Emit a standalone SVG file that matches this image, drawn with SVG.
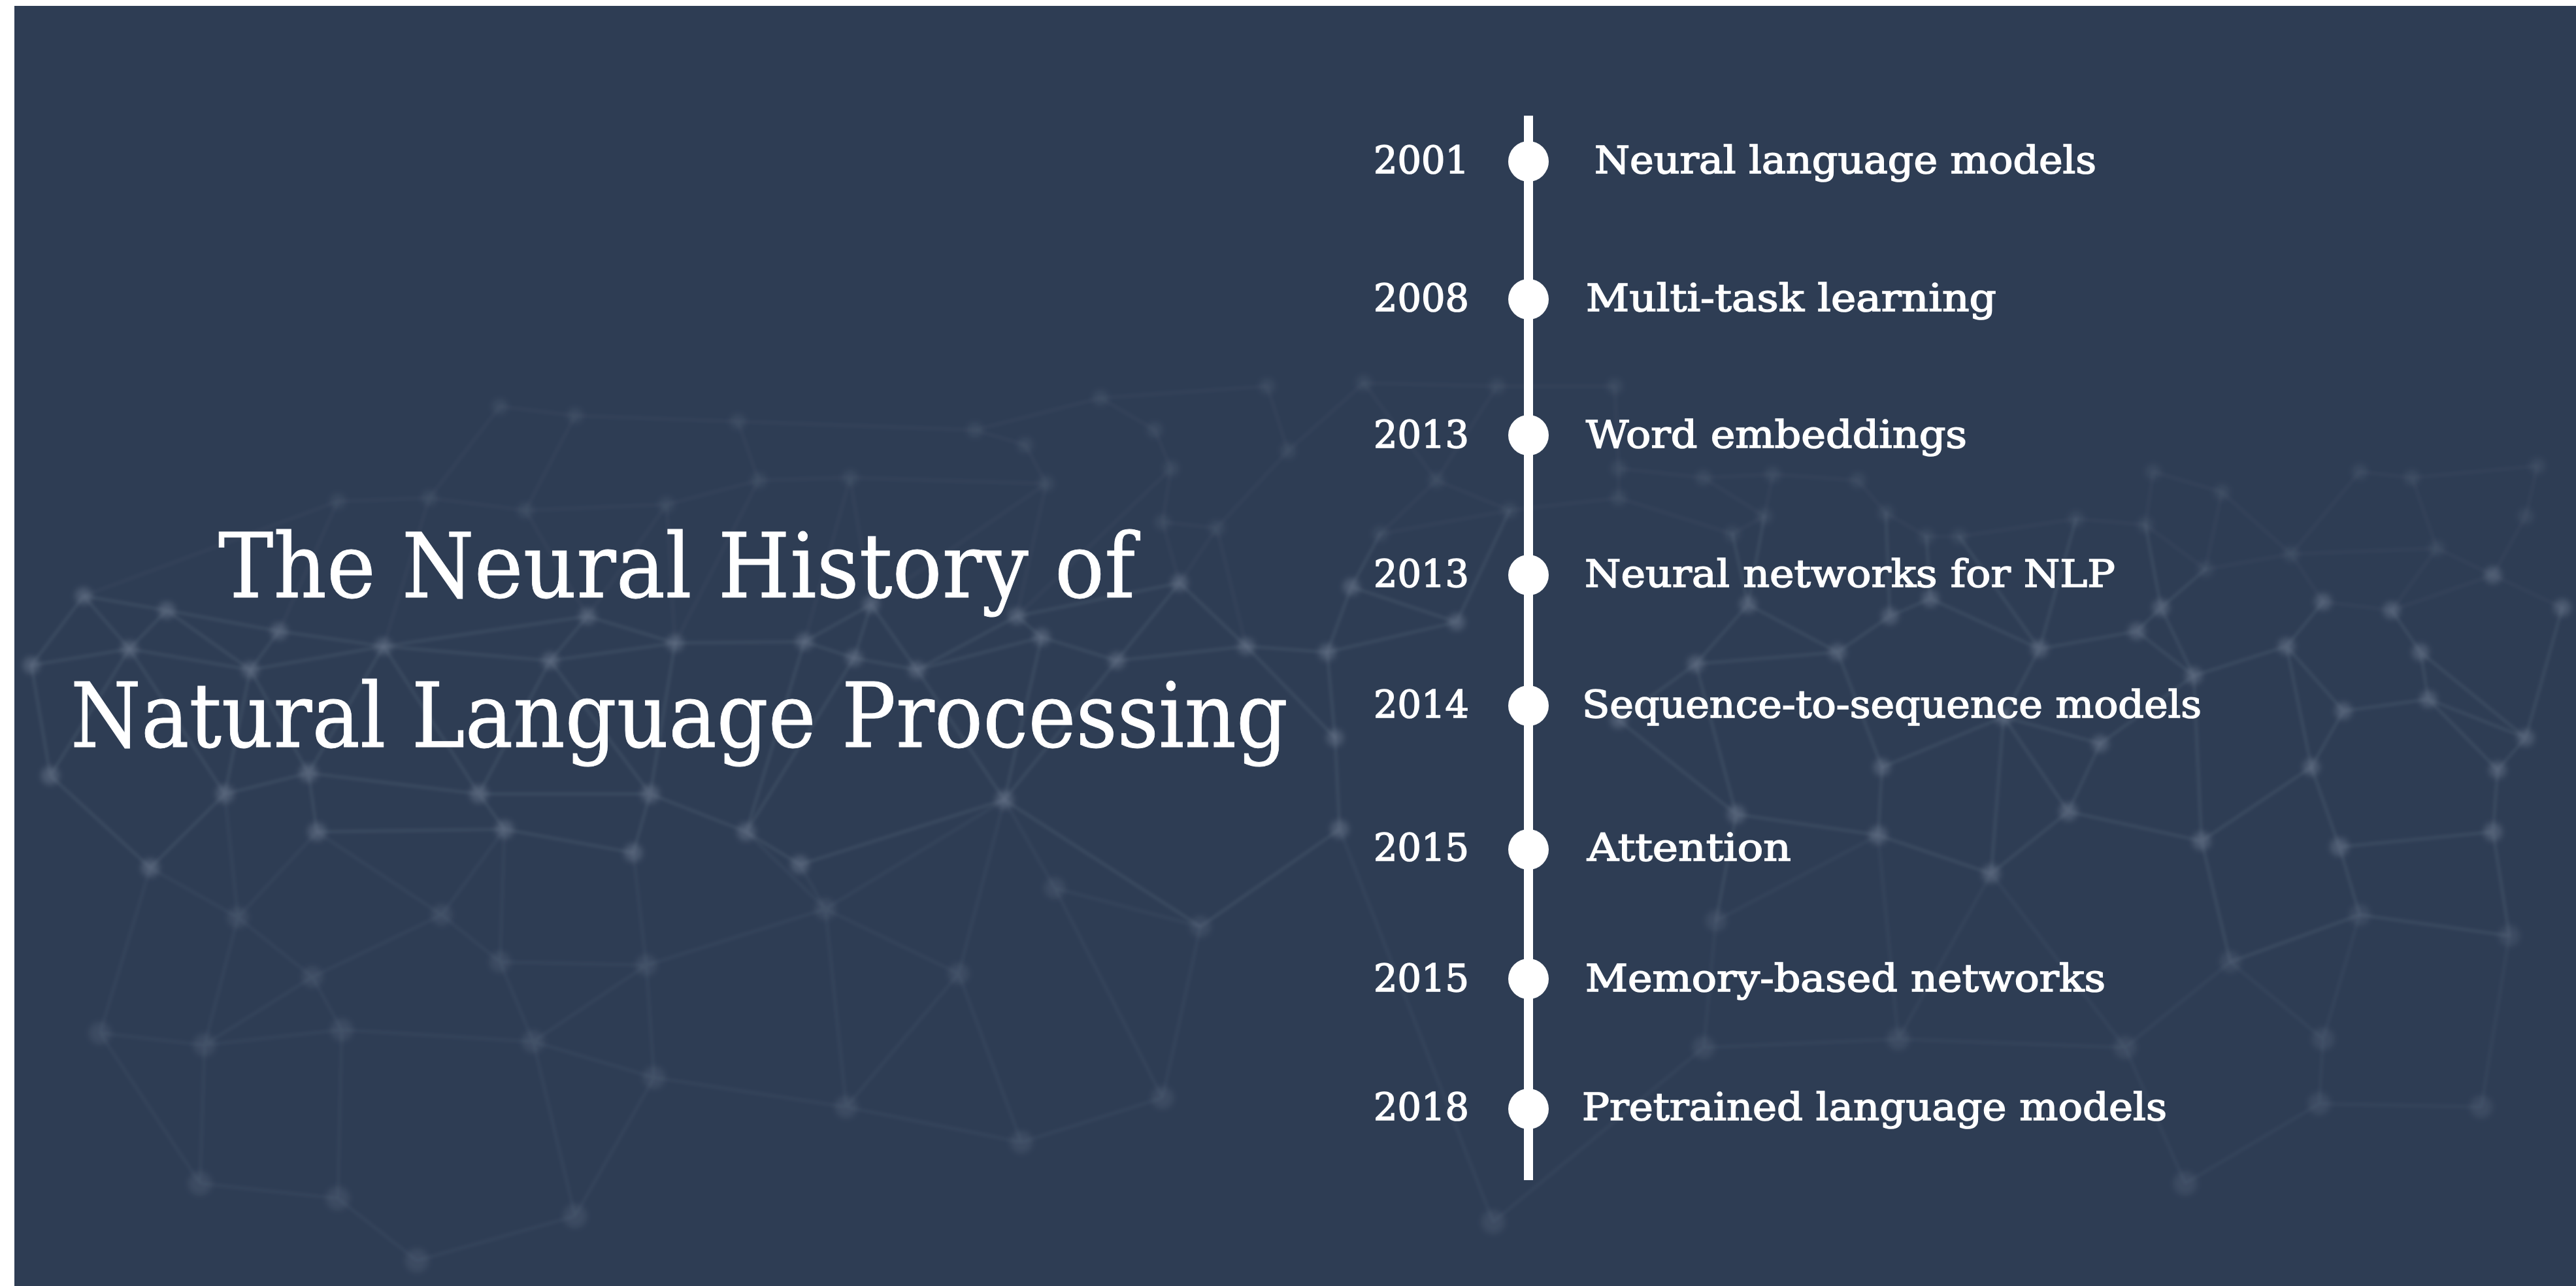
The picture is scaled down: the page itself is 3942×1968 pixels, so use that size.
<svg xmlns="http://www.w3.org/2000/svg" width="3942" height="1968" viewBox="0 0 3942 1968">
<defs>
<filter id="soft" x="-5%" y="-5%" width="110%" height="110%"><feGaussianBlur stdDeviation="2.5"/></filter>
<filter id="softer" x="-5%" y="-5%" width="110%" height="110%"><feGaussianBlur stdDeviation="5"/></filter>
</defs>
<style>
.bg{fill:#2e3d54}
.mesh{fill:none;stroke:#8f9cb0;stroke-width:4;stroke-linecap:round}
.m1{stroke-opacity:0.16}
.m2{stroke-opacity:0.09}
.m3{stroke-opacity:0.07}
.n1{fill:#8f9cb0;fill-opacity:0.30}
.n2{fill:#8f9cb0;fill-opacity:0.15}
.n3{fill:#8f9cb0;fill-opacity:0.12}
.title{font-family:"DejaVu Serif","Liberation Serif",serif;font-size:124px;fill:#ffffff;stroke:#ffffff;stroke-width:0.8}
.year{font-family:"DejaVu Serif","Liberation Serif",serif;font-size:58px;fill:#ffffff;stroke:#ffffff;stroke-width:1.6}
.label{font-family:"DejaVu Serif","Liberation Serif",serif;font-size:58px;fill:#ffffff;stroke:#ffffff;stroke-width:1.6}
.dot{fill:#ffffff}
.axis{stroke:#ffffff;stroke-width:14;stroke-linecap:butt}
</style>
<rect x="0" y="0" width="3942" height="1968" fill="#ffffff"/>
<rect class="bg" x="22" y="9" width="3920" height="1959"/>

<g id="background-network">
<g filter="url(#soft)">
<path class="mesh m3" d="M517 767L657 762L804 781L1020 772L1161 735L1301 731L1601 740L1569 681L1492 658L1684 609L1767 658L1792 717L1779 799L1862 808L1971 690L1939 591L1684 609 M765 622L880 636L1129 645L1161 735 M765 622L657 762 M880 636L804 781 M1129 645L1492 658 M517 767L427 966 M657 762L587 989 M804 781L899 943 M1020 772L899 943 M1020 772L1033 984 M1161 735L1033 984 M1301 731L1333 925 M1301 731L1231 982 M1601 740L1556 943 M1601 740L1333 925 M1779 799L1805 892 M1862 808L1805 892 M1792 717L1556 943 M1862 808L1907 989 M128 912L517 767 M1971 690L2087 586"/>
<path class="mesh m3" d="M2087 586L2291 591L2471 591 M2087 586L2198 735L2291 591 M2198 735L2310 781L2112 817L2198 735 M2310 781L2477 762L2477 717L2607 731L2713 726L2843 735 M2471 591L2477 717 M2607 731L2700 790L2713 726 M2700 790L2651 817L2477 762 M2843 735L2886 785L2948 821L2998 821L3177 794L3283 803L3295 722L3400 753L3375 871L3283 803 M3375 871L3506 848L3400 753 M3506 848L3611 722L3691 731L3729 839L3506 848 M3729 839L3815 880L3865 790L3883 713L3691 731 M3815 880L3921 930 M3506 848L3555 921L3660 934L3815 880 M3729 839L3660 934"/>
<path class="mesh m1" d="M48 1018L198 993L383 1025L587 989L842 1011L1033 984L1231 982L1307 1007L1403 1025L1594 975L1709 1011L1907 989L2031 998 M128 912L255 934L427 966L587 989 M128 912L198 993L255 934L383 1025L427 966 M128 912L48 1018 M899 943L842 1011 M899 943L1033 984 M899 943L587 989 M1333 925L1307 1007 M1333 925L1231 982 M1333 925L1403 1025 M1556 943L1594 975 M1556 943L1403 1025 M1805 892L1709 1011 M1805 892L1907 989 M1805 892L1556 943"/>
<path class="mesh m1" d="M48 1018L77 1187 M198 993L77 1187 M198 993L344 1215 M383 1025L344 1215 M383 1025L472 1183 M587 989L472 1183 M587 989L733 1215 M842 1011L733 1215 M842 1011L995 1215 M1033 984L995 1215 M1231 982L1142 1273 M1307 1007L1142 1273 M1403 1025L1537 1224 M1594 975L1537 1224 M1709 1011L1537 1224 M77 1187L230 1328L344 1215L472 1183L485 1273L772 1269L969 1305L995 1215L1142 1273L1224 1323L1537 1224 M733 1215L772 1269 M733 1215L995 1215 M472 1183L733 1215"/>
<path class="mesh m1" d="M2068 898L2229 952L2031 998L2068 898 M2112 817L2068 898 M2310 781L2229 952 M2651 817L2675 925 M2700 790L2675 925 M2886 785L2892 943 M2948 821L2954 916 M2892 943L2954 916 M2675 925L2812 998L2892 943 M2675 925L2595 1016L2477 1102 M2954 916L3121 993 M2998 821L3121 993 M3177 794L3121 993 M3283 803L3307 930L3270 966L3121 993 M3307 930L3357 1034 M3270 966L3357 1034 M3375 871L3307 930 M3555 921L3499 989L3357 1034 M3660 934L3704 998L3716 1070L3586 1088L3499 989 M3704 998L3865 1129 M3921 930L3865 1129 M3716 1070L3865 1129 M3121 993L3066 1097L3214 1138L3357 1034 M3066 1097L2880 1174L2812 998 M2595 1016L2812 998 M2031 998L2043 1129 M3586 1088L3537 1174L3499 989 M3822 1178L3865 1129 M3822 1178L3716 1070"/>
<path class="mesh m1" d="M2043 1129L2050 1269 M2477 1102L2657 1246 M2595 1016L2657 1246 M2880 1174L2874 1278 M2657 1246L2874 1278L3047 1337 M3066 1097L3047 1337 M3066 1097L3165 1242 M3214 1138L3165 1242 M3165 1242L3047 1337 M3165 1242L3369 1287 M3357 1034L3369 1287 M3537 1174L3369 1287 M3537 1174L3580 1296L3815 1273 M3822 1178L3815 1273L3840 1432 M3580 1296L3611 1400L3840 1432 M3611 1400L3413 1472L3369 1287 M2657 1246L2626 1409 M1907 989L2043 1129 M1537 1224L1837 1418 M1837 1418L2050 1269"/>
<path class="mesh m2" d="M230 1328L364 1404 M344 1215L364 1404 M485 1273L364 1404 M485 1273L676 1400 M772 1269L676 1400 M772 1269L765 1472 M969 1305L989 1477 M1224 1323L1263 1391 M1142 1273L1263 1391 M1537 1224L1614 1359 M1537 1224L1467 1490 M1614 1359L1837 1418 M1537 1224L1263 1391 M1263 1391L1467 1490 M364 1404L478 1495 M676 1400L478 1495 M676 1400L765 1472 M765 1472L989 1477 M989 1477L1263 1391 M230 1328L153 1581 M364 1404L313 1599 M478 1495L313 1599 M478 1495L523 1576 M765 1472L816 1594 M989 1477L816 1594 M989 1477L1001 1649 M1263 1391L1295 1694 M1467 1490L1295 1694 M1467 1490L1563 1748 M1837 1418L1779 1680 M1614 1359L1779 1680 M1779 1680L1563 1748 M1001 1649L1295 1694L1563 1748 M523 1576L816 1594L1001 1649 M153 1581L313 1599L523 1576 M313 1599L306 1811 M523 1576L517 1834 M306 1811L517 1834L638 1929L880 1861 M816 1594L880 1861 M1001 1649L880 1861 M153 1581L306 1811"/>
<path class="mesh m2" d="M2626 1409L2607 1603 M2874 1278L2905 1590 M3047 1337L2905 1590 M2607 1603L2905 1590L3252 1603 M3047 1337L3252 1603 M3413 1472L3252 1603 M3413 1472L3555 1590 M3611 1400L3555 1590 M3555 1590L3549 1689L3797 1694 M3840 1432L3797 1694 M3252 1603L3344 1811L3549 1689 M2607 1603L2285 1870 M2626 1409L2874 1278 M2050 1269L2285 1870"/>
</g>
<g filter="url(#softer)">
<g class="n3">
<circle cx="765" cy="622" r="12"/><circle cx="880" cy="636" r="12"/><circle cx="1129" cy="645" r="12"/><circle cx="1492" cy="658" r="12"/><circle cx="1569" cy="681" r="12"/><circle cx="1684" cy="609" r="12"/><circle cx="1767" cy="658" r="12"/><circle cx="1792" cy="717" r="12"/><circle cx="1939" cy="591" r="12"/><circle cx="1971" cy="690" r="12"/><circle cx="1301" cy="731" r="12"/><circle cx="1161" cy="735" r="12"/><circle cx="1601" cy="740" r="12"/><circle cx="1020" cy="772" r="12"/><circle cx="804" cy="781" r="12"/><circle cx="657" cy="762" r="12"/><circle cx="517" cy="767" r="12"/><circle cx="1779" cy="799" r="12"/><circle cx="1862" cy="808" r="12"/>
<circle cx="2087" cy="586" r="12"/><circle cx="2291" cy="591" r="12"/><circle cx="2471" cy="591" r="12"/><circle cx="2198" cy="735" r="12"/><circle cx="2477" cy="717" r="12"/><circle cx="2607" cy="731" r="12"/><circle cx="2713" cy="726" r="12"/><circle cx="2843" cy="735" r="12"/><circle cx="2477" cy="762" r="12"/><circle cx="2310" cy="781" r="12"/><circle cx="2112" cy="817" r="12"/><circle cx="2651" cy="817" r="12"/><circle cx="2700" cy="790" r="12"/><circle cx="2886" cy="785" r="12"/><circle cx="2948" cy="821" r="12"/><circle cx="2998" cy="821" r="12"/><circle cx="3177" cy="794" r="12"/><circle cx="3283" cy="803" r="12"/><circle cx="3375" cy="871" r="12"/><circle cx="3506" cy="848" r="12"/><circle cx="3729" cy="839" r="12"/><circle cx="3865" cy="790" r="12"/><circle cx="3691" cy="731" r="12"/><circle cx="3883" cy="713" r="12"/><circle cx="3611" cy="722" r="12"/><circle cx="3400" cy="753" r="12"/><circle cx="3295" cy="722" r="12"/>
</g>
<g class="n1">
<circle cx="128" cy="912" r="13"/><circle cx="255" cy="934" r="13"/><circle cx="427" cy="966" r="13"/><circle cx="899" cy="943" r="13"/><circle cx="1333" cy="925" r="13"/><circle cx="1556" cy="943" r="13"/><circle cx="1805" cy="892" r="13"/><circle cx="48" cy="1018" r="13"/><circle cx="198" cy="993" r="13"/><circle cx="383" cy="1025" r="13"/><circle cx="587" cy="989" r="13"/><circle cx="842" cy="1011" r="13"/><circle cx="1033" cy="984" r="13"/><circle cx="1231" cy="982" r="13"/><circle cx="1307" cy="1007" r="13"/><circle cx="1403" cy="1025" r="13"/><circle cx="1594" cy="975" r="13"/><circle cx="1709" cy="1011" r="13"/><circle cx="1907" cy="989" r="13"/>
<circle cx="77" cy="1187" r="14"/><circle cx="344" cy="1215" r="14"/><circle cx="472" cy="1183" r="14"/><circle cx="733" cy="1215" r="14"/><circle cx="995" cy="1215" r="14"/><circle cx="1537" cy="1224" r="14"/><circle cx="485" cy="1273" r="14"/><circle cx="772" cy="1269" r="14"/><circle cx="1142" cy="1273" r="14"/><circle cx="1224" cy="1323" r="14"/><circle cx="969" cy="1305" r="14"/><circle cx="230" cy="1328" r="14"/>
<circle cx="3555" cy="921" r="13"/><circle cx="3660" cy="934" r="13"/><circle cx="3815" cy="880" r="13"/><circle cx="3921" cy="930" r="13"/><circle cx="2068" cy="898" r="13"/><circle cx="2229" cy="952" r="13"/><circle cx="2031" cy="998" r="13"/><circle cx="2675" cy="925" r="13"/><circle cx="2892" cy="943" r="13"/><circle cx="2954" cy="916" r="13"/><circle cx="3121" cy="993" r="13"/><circle cx="3270" cy="966" r="13"/><circle cx="3307" cy="930" r="13"/><circle cx="3499" cy="989" r="13"/><circle cx="3704" cy="998" r="13"/><circle cx="2595" cy="1016" r="13"/><circle cx="2812" cy="998" r="13"/><circle cx="3357" cy="1034" r="13"/><circle cx="3586" cy="1088" r="13"/><circle cx="3716" cy="1070" r="13"/><circle cx="3865" cy="1129" r="13"/><circle cx="2043" cy="1129" r="13"/><circle cx="2477" cy="1102" r="13"/><circle cx="3066" cy="1097" r="13"/><circle cx="3214" cy="1138" r="13"/><circle cx="3537" cy="1174" r="13"/><circle cx="3822" cy="1178" r="13"/><circle cx="2880" cy="1174" r="13"/>
<circle cx="2050" cy="1269" r="14"/><circle cx="2657" cy="1246" r="14"/><circle cx="2874" cy="1278" r="14"/><circle cx="3165" cy="1242" r="14"/><circle cx="3369" cy="1287" r="14"/><circle cx="3580" cy="1296" r="14"/><circle cx="3815" cy="1273" r="14"/><circle cx="3047" cy="1337" r="14"/>
</g>
<g class="n2">
<circle cx="364" cy="1404" r="16"/><circle cx="676" cy="1400" r="16"/><circle cx="1263" cy="1391" r="16"/><circle cx="1614" cy="1359" r="16"/><circle cx="1837" cy="1418" r="16"/><circle cx="478" cy="1495" r="16"/><circle cx="765" cy="1472" r="16"/><circle cx="989" cy="1477" r="16"/><circle cx="1467" cy="1490" r="16"/>
<circle cx="153" cy="1581" r="17"/><circle cx="313" cy="1599" r="17"/><circle cx="523" cy="1576" r="17"/><circle cx="816" cy="1594" r="17"/><circle cx="1001" cy="1649" r="17"/><circle cx="1295" cy="1694" r="17"/><circle cx="1563" cy="1748" r="17"/><circle cx="1779" cy="1680" r="17"/>
<circle cx="306" cy="1811" r="18"/><circle cx="517" cy="1834" r="18"/><circle cx="880" cy="1861" r="18"/><circle cx="638" cy="1929" r="18"/>
<circle cx="2626" cy="1409" r="16"/><circle cx="3611" cy="1400" r="16"/><circle cx="3840" cy="1432" r="16"/><circle cx="3413" cy="1472" r="16"/>
<circle cx="2607" cy="1603" r="17"/><circle cx="2905" cy="1590" r="17"/><circle cx="3252" cy="1603" r="17"/><circle cx="3555" cy="1590" r="17"/><circle cx="3344" cy="1811" r="18"/><circle cx="3549" cy="1689" r="17"/><circle cx="3797" cy="1694" r="17"/><circle cx="2285" cy="1870" r="18"/>
</g>
</g>
</g>

<g id="title">
<text class="title" x="334" y="914" textLength="1403" lengthAdjust="spacingAndGlyphs" transform="matrix(1 0 0 1.1 0 -91.4)">The Neural History of</text>
<text class="title" x="108" y="1143" textLength="1863" lengthAdjust="spacingAndGlyphs" transform="matrix(1 0 0 1.1 0 -114.3)">Natural Language Processing</text>
</g>

<g id="connectors">
<line class="axis" x1="2339" y1="177" x2="2339" y2="1806"/>
</g>

<g id="event-2001">
<circle class="dot" cx="2339" cy="247" r="31"/>
<text class="year" x="2102" y="265" textLength="146" lengthAdjust="spacingAndGlyphs">2001</text>
<text class="label" x="2440" y="265" textLength="768" lengthAdjust="spacingAndGlyphs">Neural language models</text>
</g>
<g id="event-2008">
<circle class="dot" cx="2339" cy="458" r="31"/>
<text class="year" x="2102" y="476" textLength="146" lengthAdjust="spacingAndGlyphs">2008</text>
<text class="label" x="2427" y="476" textLength="628" lengthAdjust="spacingAndGlyphs">Multi-task learning</text>
</g>
<g id="event-2013a">
<circle class="dot" cx="2339" cy="666" r="31"/>
<text class="year" x="2102" y="685" textLength="146" lengthAdjust="spacingAndGlyphs">2013</text>
<text class="label" x="2427" y="685" textLength="583" lengthAdjust="spacingAndGlyphs">Word embeddings</text>
</g>
<g id="event-2013b">
<circle class="dot" cx="2339" cy="880" r="31"/>
<text class="year" x="2102" y="898" textLength="146" lengthAdjust="spacingAndGlyphs">2013</text>
<text class="label" x="2425" y="898" textLength="812" lengthAdjust="spacingAndGlyphs">Neural networks for NLP</text>
</g>
<g id="event-2014">
<circle class="dot" cx="2339" cy="1080" r="31"/>
<text class="year" x="2102" y="1098" textLength="146" lengthAdjust="spacingAndGlyphs">2014</text>
<text class="label" x="2421" y="1098" textLength="948" lengthAdjust="spacingAndGlyphs">Sequence-to-sequence models</text>
</g>
<g id="event-2015a">
<circle class="dot" cx="2339" cy="1300" r="31"/>
<text class="year" x="2102" y="1317" textLength="146" lengthAdjust="spacingAndGlyphs">2015</text>
<text class="label" x="2429" y="1317" textLength="312" lengthAdjust="spacingAndGlyphs">Attention</text>
</g>
<g id="event-2015b">
<circle class="dot" cx="2339" cy="1498" r="31"/>
<text class="year" x="2102" y="1517" textLength="146" lengthAdjust="spacingAndGlyphs">2015</text>
<text class="label" x="2426" y="1517" textLength="796" lengthAdjust="spacingAndGlyphs">Memory-based networks</text>
</g>
<g id="event-2018">
<circle class="dot" cx="2339" cy="1697" r="31"/>
<text class="year" x="2102" y="1714" textLength="146" lengthAdjust="spacingAndGlyphs">2018</text>
<text class="label" x="2421" y="1714" textLength="895" lengthAdjust="spacingAndGlyphs">Pretrained language models</text>
</g>
</svg>
